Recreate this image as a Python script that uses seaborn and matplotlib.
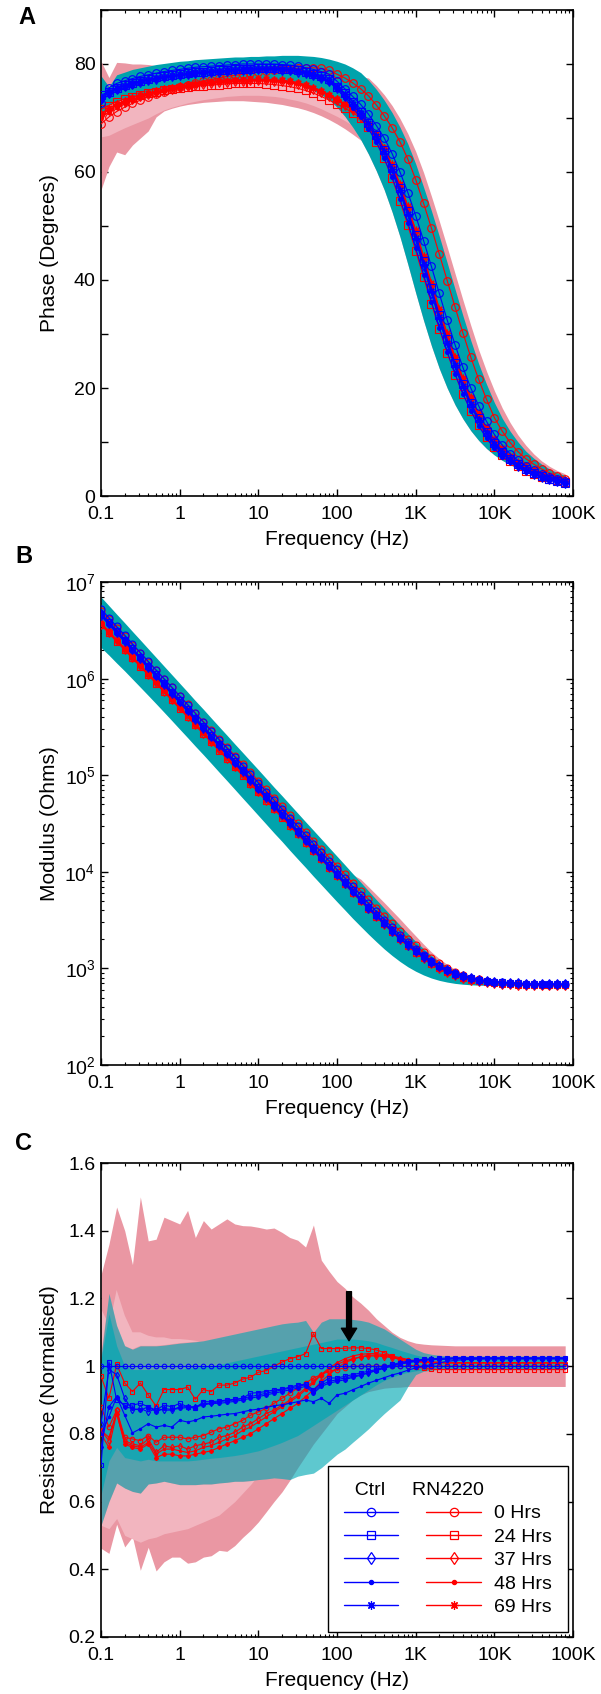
import seaborn as sns
import matplotlib.pyplot as plt
from matplotlib.lines import Line2D
from matplotlib.ticker import FixedLocator, FixedFormatter, LogLocator, NullFormatter, NullLocator

# frequency sweep, 10 points per decade
freq_hz = [
    0.1, 0.126, 0.158, 0.2, 0.251, 0.316, 0.398, 0.501, 0.631, 0.794,
    1.0, 1.26, 1.58, 2.0, 2.51, 3.16, 3.98, 5.01, 6.31, 7.94,
    10.0, 12.6, 15.8, 20.0, 25.1, 31.6, 39.8, 50.1, 63.1, 79.4,
    100, 126, 158, 200, 251, 316, 398, 501, 631, 794,
    1000, 1259, 1585, 1995, 2512, 3162, 3981, 5012, 6310, 7943,
    10000, 12589, 15849, 19953, 25119, 31623, 39811, 50119, 63096, 79433]

tick_freqs = [0.1, 1, 10, 100, 1e3, 1e4, 1e5]
tick_freq_labels = ['0.1', '1', '10', '100', '1K', '10K', '100K']
time_labels = ['0 Hrs', '24 Hrs', '37 Hrs', '48 Hrs', '69 Hrs']

# ---------------- A : phase (degrees) ----------------
ph_ctrl_0 = [
    72.7, 75.6, 76.4, 76.9, 77.3, 77.7, 78.0, 78.3, 78.6, 78.8,
    79.0, 79.2, 79.4, 79.5, 79.6, 79.7, 79.8, 79.9, 80.0, 80.0,
    80.0, 80.0, 80.0, 79.9, 79.8, 79.6, 79.3, 79.0, 78.6, 78.1,
    76.8, 75.4, 74.0, 72.5, 70.7, 68.6, 66.3, 63.4, 60.0, 56.2,
    51.9, 47.3, 42.5, 37.5, 32.6, 28.0, 23.8, 20.0, 16.7, 13.8,
    11.4, 9.4, 7.8, 6.6, 5.6, 4.8, 4.1, 3.5, 3.1, 2.7]
ph_ctrl_24 = [
    74.3, 74.8, 75.6, 76.1, 76.5, 76.9, 77.2, 77.5, 77.7, 77.9,
    78.1, 78.3, 78.5, 78.6, 78.7, 78.8, 78.9, 79.0, 79.1, 79.1,
    79.2, 79.2, 79.2, 79.1, 79.0, 78.8, 78.6, 78.2, 77.8, 77.2,
    75.8, 74.6, 73.0, 71.2, 69.1, 66.8, 64.0, 60.8, 57.0, 52.8,
    48.3, 43.5, 38.5, 33.6, 29.0, 24.6, 20.8, 17.3, 14.4, 11.9,
    9.8, 8.2, 6.9, 5.9, 5.0, 4.3, 3.7, 3.2, 2.8, 2.5]
ph_ctrl_37 = [
    73.6, 74.6, 75.3, 75.9, 76.3, 76.7, 77.0, 77.3, 77.5, 77.7,
    77.9, 78.1, 78.3, 78.4, 78.5, 78.6, 78.7, 78.8, 78.9, 78.9,
    79.0, 79.0, 79.0, 78.9, 78.8, 78.6, 78.3, 77.9, 77.4, 76.8,
    75.5, 74.0, 72.4, 70.7, 68.6, 66.3, 63.4, 60.0, 56.2, 51.9,
    47.3, 42.5, 37.5, 32.6, 28.0, 23.8, 20.0, 16.7, 13.8, 11.4,
    9.4, 7.8, 6.6, 5.6, 4.8, 4.1, 3.5, 3.1, 2.7, 2.4]
ph_ctrl_48 = [
    73.2, 74.3, 75.0, 75.6, 76.0, 76.4, 76.8, 77.1, 77.4, 77.6,
    77.8, 78.0, 78.2, 78.3, 78.4, 78.5, 78.6, 78.7, 78.8, 78.8,
    78.9, 78.9, 78.9, 78.8, 78.7, 78.5, 78.2, 77.8, 77.3, 76.7,
    75.3, 73.7, 71.9, 70.1, 68.0, 65.5, 62.5, 59.0, 55.0, 50.6,
    45.9, 41.0, 36.0, 31.2, 26.7, 22.6, 18.9, 15.8, 13.0, 10.7,
    8.8, 7.3, 6.3, 5.3, 4.5, 3.8, 3.3, 2.9, 2.6, 2.4]
ph_ctrl_69 = [
    73.9, 74.9, 75.5, 76.0, 76.4, 76.8, 77.1, 77.4, 77.6, 77.8,
    78.0, 78.2, 78.4, 78.5, 78.6, 78.7, 78.8, 78.9, 79.0, 79.0,
    79.1, 79.1, 79.1, 79.0, 78.9, 78.7, 78.4, 78.0, 77.5, 76.9,
    75.7, 74.4, 72.6, 71.0, 69.0, 66.7, 63.9, 60.5, 56.6, 52.3,
    47.8, 43.0, 38.0, 33.1, 28.4, 24.2, 20.4, 17.0, 14.1, 11.6,
    9.6, 8.0, 6.7, 5.7, 4.9, 4.2, 3.6, 3.1, 2.8, 2.5]
ph_rn_0 = [
    68.9, 70.2, 71.2, 72.0, 72.7, 73.3, 73.9, 74.4, 74.9, 75.3,
    75.7, 76.1, 76.5, 76.8, 77.1, 77.4, 77.7, 77.9, 78.1, 78.3,
    78.5, 78.7, 78.9, 79.0, 79.1, 79.2, 79.3, 79.3, 79.2, 78.8,
    78.1, 77.4, 76.5, 75.4, 74.1, 72.4, 70.4, 68.2, 65.6, 62.4,
    58.6, 54.2, 49.6, 44.8, 39.9, 35.0, 30.2, 25.7, 21.6, 17.9,
    14.5, 12.0, 9.9, 8.2, 6.9, 5.9, 5.0, 4.3, 3.7, 3.2]
ph_rn_24 = [
    71.6, 72.3, 73.0, 73.5, 73.9, 74.3, 74.6, 74.9, 75.1, 75.3,
    75.5, 75.7, 75.9, 76.0, 76.1, 76.2, 76.3, 76.4, 76.4, 76.4,
    76.4, 76.3, 76.2, 76.0, 75.8, 75.5, 75.1, 74.6, 74.0, 73.3,
    72.6, 71.8, 71.0, 70.0, 68.3, 65.6, 62.5, 58.8, 54.6, 50.1,
    45.4, 40.5, 35.6, 30.9, 26.5, 22.5, 18.9, 15.8, 13.1, 10.9,
    9.1, 7.6, 6.4, 5.5, 4.7, 4.1, 3.6, 3.2, 2.9, 2.6]
ph_rn_37 = [
    70.5, 71.5, 72.4, 73.0, 73.5, 74.0, 74.4, 74.8, 75.1, 75.4,
    75.7, 75.9, 76.1, 76.3, 76.5, 76.6, 76.7, 76.8, 76.9, 77.0,
    77.0, 77.0, 76.9, 76.8, 76.6, 76.3, 75.9, 75.4, 74.8, 74.1,
    73.3, 72.4, 71.4, 70.2, 68.7, 66.8, 64.2, 61.0, 57.3, 53.1,
    48.6, 43.8, 38.9, 34.1, 29.5, 25.2, 21.3, 17.9, 14.9, 12.3,
    10.2, 8.5, 7.1, 6.0, 5.1, 4.4, 3.8, 3.4, 3.0, 2.7]
ph_rn_48 = [
    70.0, 71.2, 72.1, 72.8, 73.3, 73.8, 74.2, 74.6, 75.0, 75.3,
    75.6, 75.9, 76.1, 76.3, 76.5, 76.6, 76.8, 76.9, 77.0, 77.1,
    77.1, 77.1, 77.0, 76.9, 76.7, 76.4, 76.0, 75.5, 74.9, 74.2,
    73.4, 72.5, 71.5, 70.3, 68.8, 66.9, 64.4, 61.3, 57.7, 53.6,
    49.1, 44.3, 39.4, 34.6, 30.0, 25.7, 21.8, 18.3, 15.2, 12.6,
    10.4, 8.7, 7.3, 6.2, 5.3, 4.5, 3.9, 3.4, 3.0, 2.7]
ph_rn_69 = [
    70.8, 71.8, 72.6, 73.2, 73.7, 74.2, 74.6, 75.0, 75.3, 75.6,
    75.9, 76.1, 76.3, 76.5, 76.7, 76.8, 76.9, 77.0, 77.1, 77.2,
    77.2, 77.2, 77.1, 77.0, 76.8, 76.5, 76.1, 75.6, 75.0, 74.3,
    73.5, 72.6, 71.6, 70.4, 68.9, 67.0, 64.5, 61.4, 57.8, 53.7,
    49.2, 44.4, 39.5, 34.7, 30.1, 25.8, 21.9, 18.4, 15.3, 12.7,
    10.5, 8.8, 7.4, 6.3, 5.3, 4.6, 4.0, 3.5, 3.1, 2.8]

# spread bands
ph_ctrl_hi = [
    77.8, 75.8, 78.0, 78.5, 79.0, 79.3, 79.6, 79.9, 80.1, 80.3,
    80.5, 80.6, 80.8, 80.9, 81.0, 81.1, 81.2, 81.3, 81.3, 81.4,
    81.4, 81.5, 81.5, 81.6, 81.6, 81.6, 81.5, 81.4, 81.2, 80.9,
    80.5, 80.0, 79.3, 78.4, 77.0, 75.3, 73.3, 71.0, 68.3, 65.2,
    61.5, 57.2, 52.8, 48.1, 43.2, 38.3, 33.4, 28.8, 24.5, 20.7,
    17.3, 14.4, 12.0, 10.0, 8.3, 7.0, 5.9, 5.0, 4.3, 3.8]
ph_ctrl_lo = [
    70.5, 72.5, 73.0, 73.6, 74.0, 74.4, 74.8, 75.2, 75.5, 75.8,
    76.1, 76.3, 76.5, 76.7, 76.9, 77.0, 77.1, 77.2, 77.3, 77.3,
    77.3, 77.2, 77.1, 76.9, 76.6, 76.2, 75.7, 75.1, 74.3, 73.4,
    72.0, 70.3, 68.3, 66.0, 63.3, 60.2, 56.7, 52.6, 48.0, 42.9,
    37.6, 32.5, 27.8, 23.6, 20.0, 16.9, 14.3, 12.1, 10.3, 8.8,
    7.6, 6.6, 5.8, 5.1, 4.5, 4.0, 3.5, 3.1, 2.7, 2.3]
ph_rn_hi = [
    80.5, 77.5, 80.3, 80.2, 80.0, 80.0, 79.9, 79.7, 79.6, 79.8,
    80.0, 80.2, 80.3, 80.4, 80.5, 80.5, 80.6, 80.6, 80.7, 80.7,
    80.7, 80.7, 80.7, 80.7, 80.7, 80.6, 80.5, 80.3, 80.1, 79.8,
    79.4, 78.9, 78.3, 77.7, 77.4, 76.0, 74.3, 72.3, 69.9, 67.1,
    63.8, 59.9, 55.5, 50.9, 46.1, 41.2, 36.3, 31.6, 27.1, 23.1,
    19.5, 16.3, 13.6, 11.3, 9.4, 7.8, 6.5, 5.5, 4.7, 4.1]
ph_rn_lo = [
    56.7, 61.0, 63.7, 63.2, 65.0, 66.3, 67.6, 70.2, 71.3, 71.8,
    72.2, 72.5, 72.7, 72.9, 73.0, 73.1, 73.2, 73.2, 73.2, 73.1,
    73.0, 72.9, 72.7, 72.5, 72.2, 71.9, 71.5, 71.0, 70.4, 69.7,
    68.9, 68.0, 67.0, 65.9, 64.6, 62.7, 60.3, 57.2, 53.5, 49.2,
    44.6, 39.8, 35.1, 30.6, 26.5, 22.8, 19.5, 16.6, 14.1, 12.0,
    10.2, 8.7, 7.4, 6.4, 5.5, 4.8, 4.2, 3.7, 3.2, 2.8]
ph_rn_inner_lo = [
    66.5, 66.8, 67.5, 68.2, 68.8, 69.4, 70.0, 70.8, 71.5, 72.0,
    72.4, 72.8, 73.1, 73.4, 73.6, 73.8, 74.0, 74.1, 74.2, 74.2,
    74.2, 74.1, 74.0, 73.8, 73.5, 73.2, 72.8, 72.3, 71.7, 71.0,
    70.3, 69.5, 68.6, 67.6, 66.4, 64.8, 62.4, 59.4, 55.8, 51.6,
    47.0, 42.2, 37.4, 32.8, 28.5, 24.5, 21.0, 17.9, 15.2, 12.9,
    11.0, 9.4, 8.0, 6.9, 6.0, 5.2, 4.5, 3.9, 3.4, 3.0]

# ---------------- B : modulus (ohms) ----------------
mod_ctrl_0 = [
    5.25e6, 4.27e6, 3.47e6, 2.82e6, 2.29e6, 1.86e6, 1.51e6, 1.23e6, 1.00e6, 8.13e5,
    6.61e5, 5.37e5, 4.37e5, 3.55e5, 2.88e5, 2.34e5, 1.91e5, 1.55e5, 1.26e5, 1.02e5,
    8.33e4, 6.77e4, 5.51e4, 4.48e4, 3.64e4, 2.96e4, 2.41e4, 1.96e4, 1.60e4, 1.30e4,
    1.06e4, 8.66e3, 7.07e3, 5.78e3, 4.74e3, 3.89e3, 3.21e3, 2.66e3, 2.22e3, 1.87e3,
    1.59e3, 1.37e3, 1.20e3, 1.06e3, 963, 890, 835, 794, 765, 743,
    728, 716, 707, 701, 696, 693, 690, 688, 686, 685]
mod_ctrl_24 = [
    4.7e6, 3.85e6, 3.12e6, 2.54e6, 2.06e6, 1.68e6, 1.36e6, 1.11e6, 9.0e5, 7.3e5,
    5.95e5, 4.83e5, 3.93e5, 3.2e5, 2.6e5, 2.11e5, 1.72e5, 1.4e5, 1.13e5, 9.2e4,
    7.5e4, 6.1e4, 4.96e4, 4.03e4, 3.28e4, 2.67e4, 2.17e4, 1.77e4, 1.44e4, 1.17e4,
    9.6e3, 7.85e3, 6.42e3, 5.27e3, 4.34e3, 3.59e3, 2.98e3, 2.49e3, 2.09e3, 1.78e3,
    1.53e3, 1.33e3, 1.17e3, 1.05e3, 955, 885, 832, 792, 763, 742,
    727, 715, 706, 700, 695, 692, 689, 687, 685, 684]
mod_ctrl_37 = [
    4.6e6, 3.75e6, 3.05e6, 2.48e6, 2.01e6, 1.64e6, 1.33e6, 1.08e6, 8.8e5, 7.15e5,
    5.82e5, 4.73e5, 3.85e5, 3.12e5, 2.54e5, 2.06e5, 1.68e5, 1.36e5, 1.11e5, 9.0e4,
    7.33e4, 5.96e4, 4.85e4, 3.94e4, 3.2e4, 2.61e4, 2.12e4, 1.73e4, 1.41e4, 1.15e4,
    9.4e3, 7.7e3, 6.3e3, 5.18e3, 4.27e3, 3.54e3, 2.94e3, 2.46e3, 2.07e3, 1.76e3,
    1.52e3, 1.32e3, 1.17e3, 1.05e3, 955, 884, 831, 791, 762, 741,
    726, 714, 705, 699, 694, 691, 688, 686, 684, 683]
mod_ctrl_48 = [
    4.45e6, 3.63e6, 2.95e6, 2.4e6, 1.95e6, 1.58e6, 1.28e6, 1.05e6, 8.5e5, 6.9e5,
    5.62e5, 4.57e5, 3.71e5, 3.02e5, 2.45e5, 1.99e5, 1.62e5, 1.32e5, 1.07e5, 8.7e4,
    7.08e4, 5.76e4, 4.68e4, 3.81e4, 3.1e4, 2.52e4, 2.05e4, 1.67e4, 1.36e4, 1.11e4,
    9.1e3, 7.45e3, 6.1e3, 5.02e3, 4.15e3, 3.45e3, 2.88e3, 2.41e3, 2.04e3, 1.74e3,
    1.5e3, 1.31e3, 1.16e3, 1.04e3, 950, 880, 828, 789, 760, 739,
    724, 712, 703, 697, 692, 689, 686, 684, 682, 681]
mod_ctrl_69 = [
    4.55e6, 3.7e6, 3.0e6, 2.45e6, 1.99e6, 1.62e6, 1.31e6, 1.07e6, 8.7e5, 7.07e5,
    5.75e5, 4.67e5, 3.8e5, 3.09e5, 2.51e5, 2.04e5, 1.66e5, 1.35e5, 1.1e5, 8.9e4,
    7.25e4, 5.89e4, 4.79e4, 3.9e4, 3.17e4, 2.58e4, 2.1e4, 1.71e4, 1.39e4, 1.13e4,
    9.3e3, 7.6e3, 6.22e3, 5.12e3, 4.22e3, 3.5e3, 2.92e3, 2.44e3, 2.06e3, 1.75e3,
    1.51e3, 1.32e3, 1.16e3, 1.04e3, 952, 882, 830, 790, 761, 740,
    725, 713, 704, 698, 693, 690, 687, 685, 683, 682]
mod_rn_0 = [
    5.0e6, 4.1e6, 3.35e6, 2.74e6, 2.24e6, 1.83e6, 1.49e6, 1.22e6, 9.95e5, 8.12e5,
    6.63e5, 5.41e5, 4.42e5, 3.6e5, 2.94e5, 2.4e5, 1.96e5, 1.6e5, 1.31e5, 1.07e5,
    8.72e4, 7.12e4, 5.81e4, 4.75e4, 3.88e4, 3.17e4, 2.59e4, 2.11e4, 1.73e4, 1.41e4,
    1.15e4, 9.4e3, 7.7e3, 6.3e3, 5.18e3, 4.26e3, 3.52e3, 2.92e3, 2.43e3, 2.04e3,
    1.73e3, 1.48e3, 1.28e3, 1.13e3, 1.01e3, 918, 853, 805, 770, 744,
    725, 711, 700, 692, 686, 682, 679, 676, 674, 673]
mod_rn_24 = [
    3.6e6, 2.95e6, 2.42e6, 1.98e6, 1.62e6, 1.33e6, 1.09e6, 8.9e5, 7.3e5, 5.97e5,
    4.89e5, 4.0e5, 3.28e5, 2.68e5, 2.2e5, 1.8e5, 1.47e5, 1.21e5, 9.9e4, 8.1e4,
    6.63e4, 5.43e4, 4.45e4, 3.64e4, 2.98e4, 2.45e4, 2.0e4, 1.64e4, 1.35e4, 1.1e4,
    9.0e3, 7.4e3, 6.1e3, 5.0e3, 4.12e3, 3.42e3, 2.85e3, 2.38e3, 2.0e3, 1.7e3,
    1.46e3, 1.27e3, 1.12e3, 1.0e3, 910, 845, 796, 760, 734, 715,
    701, 691, 684, 679, 675, 672, 670, 669, 668, 667]
mod_rn_37 = [
    3.7e6, 3.04e6, 2.49e6, 2.04e6, 1.67e6, 1.37e6, 1.12e6, 9.2e5, 7.5e5, 6.15e5,
    5.04e5, 4.12e5, 3.38e5, 2.76e5, 2.26e5, 1.85e5, 1.52e5, 1.24e5, 1.02e5, 8.35e4,
    6.83e4, 5.59e4, 4.58e4, 3.75e4, 3.07e4, 2.52e4, 2.06e4, 1.69e4, 1.39e4, 1.13e4,
    9.25e3, 7.6e3, 6.25e3, 5.12e3, 4.22e3, 3.5e3, 2.91e3, 2.43e3, 2.04e3, 1.73e3,
    1.48e3, 1.29e3, 1.13e3, 1.01e3, 918, 850, 800, 763, 736, 717,
    703, 693, 686, 681, 677, 674, 672, 670, 669, 668]
mod_rn_48 = [
    3.65e6, 2.99e6, 2.45e6, 2.0e6, 1.64e6, 1.35e6, 1.1e6, 9.0e5, 7.4e5, 6.05e5,
    4.95e5, 4.06e5, 3.33e5, 2.72e5, 2.23e5, 1.83e5, 1.5e5, 1.23e5, 1.0e5, 8.2e4,
    6.72e4, 5.5e4, 4.5e4, 3.69e4, 3.02e4, 2.48e4, 2.03e4, 1.66e4, 1.37e4, 1.12e4,
    9.1e3, 7.5e3, 6.15e3, 5.05e3, 4.17e3, 3.46e3, 2.88e3, 2.41e3, 2.02e3, 1.72e3,
    1.47e3, 1.28e3, 1.12e3, 1.0e3, 914, 848, 798, 762, 735, 716,
    702, 692, 685, 680, 676, 673, 671, 669, 668, 667]
mod_rn_69 = [
    3.8e6, 3.1e6, 2.54e6, 2.08e6, 1.7e6, 1.39e6, 1.14e6, 9.35e5, 7.65e5, 6.25e5,
    5.12e5, 4.19e5, 3.43e5, 2.81e5, 2.3e5, 1.88e5, 1.54e5, 1.26e5, 1.03e5, 8.45e4,
    6.92e4, 5.66e4, 4.63e4, 3.79e4, 3.1e4, 2.54e4, 2.08e4, 1.7e4, 1.4e4, 1.14e4,
    9.3e3, 7.65e3, 6.28e3, 5.15e3, 4.25e3, 3.52e3, 2.93e3, 2.44e3, 2.05e3, 1.74e3,
    1.49e3, 1.29e3, 1.13e3, 1.01e3, 920, 852, 801, 764, 737, 718,
    704, 694, 687, 681, 677, 674, 672, 670, 669, 668]
mod_ctrl_hi = [
    7.0e6, 5.7e6, 4.65e6, 3.78e6, 3.08e6, 2.51e6, 2.04e6, 1.66e6, 1.35e6, 1.1e6,
    8.95e5, 7.28e5, 5.92e5, 4.82e5, 3.92e5, 3.19e5, 2.6e5, 2.11e5, 1.72e5, 1.4e5,
    1.14e5, 9.25e4, 7.53e4, 6.13e4, 4.99e4, 4.06e4, 3.3e4, 2.69e4, 2.19e4, 1.78e4,
    1.45e4, 1.18e4, 9.6e3, 7.8e3, 6.35e3, 5.15e3, 4.2e3, 3.43e3, 2.8e3, 2.3e3,
    1.9e3, 1.6e3, 1.36e3, 1.18e3, 1.05e3, 950, 875, 820, 780, 752,
    732, 718, 708, 701, 696, 692, 690, 688, 686, 685]
mod_ctrl_lo = [
    2.1e6, 1.75e6, 1.45e6, 1.2e6, 9.9e5, 8.15e5, 6.7e5, 5.5e5, 4.5e5, 3.68e5,
    3.0e5, 2.45e5, 2.0e5, 1.63e5, 1.33e5, 1.08e5, 8.8e4, 7.15e4, 5.8e4, 4.72e4,
    3.83e4, 3.11e4, 2.53e4, 2.06e4, 1.67e4, 1.36e4, 1.11e4, 9.0e3, 7.35e3, 6.0e3,
    4.9e3, 4.02e3, 3.3e3, 2.72e3, 2.26e3, 1.89e3, 1.59e3, 1.36e3, 1.18e3, 1.04e3,
    935, 855, 795, 752, 722, 700, 686, 677, 671, 668,
    666, 665, 664, 663, 663, 662, 662, 661, 661, 661]
mod_rn_hi = [
    5.5e6, 4.5e6, 3.68e6, 3.0e6, 2.46e6, 2.01e6, 1.65e6, 1.35e6, 1.1e6, 9.0e5,
    7.4e5, 6.05e5, 4.95e5, 4.05e5, 3.32e5, 2.72e5, 2.22e5, 1.82e5, 1.49e5, 1.22e5,
    1.0e5, 8.2e4, 6.72e4, 5.5e4, 4.5e4, 3.69e4, 3.02e4, 2.48e4, 2.03e4, 1.67e4,
    1.37e4, 1.13e4, 9.35e3, 8.4e3, 7.0e3, 5.8e3, 4.8e3, 3.95e3, 3.25e3, 2.65e3,
    2.17e3, 1.78e3, 1.48e3, 1.26e3, 1.1e3, 980, 885, 820, 778, 748,
    727, 712, 702, 695, 690, 686, 683, 681, 680, 679]

# ---------------- C : normalised resistance ----------------
res_ctrl_0 = [
    1.0, 1.0, 1.0, 1.0, 1.0, 1.0, 1.0, 1.0, 1.0, 1.0,
    1.0, 1.0, 1.0, 1.0, 1.0, 1.0, 1.0, 1.0, 1.0, 1.0,
    1.0, 1.0, 1.0, 1.0, 1.0, 1.0, 1.0, 1.0, 1.0, 1.0,
    1.0, 1.0, 1.0, 1.0, 1.0, 1.0, 1.0, 1.0, 1.0, 1.0,
    1.0, 1.0, 1.0, 1.0, 1.0, 1.0, 1.0, 1.0, 1.0, 1.0,
    1.0, 1.0, 1.0, 1.0, 1.0, 1.0, 1.0, 1.0, 1.0, 1.0]
res_ctrl_24 = [
    0.707, 1.013, 0.90, 0.885, 0.885, 0.89, 0.88, 0.87, 0.885, 0.88,
    0.89, 0.88, 0.875, 0.895, 0.895, 0.897, 0.90, 0.902, 0.905, 0.92,
    0.922, 0.925, 0.93, 0.932, 0.938, 0.944, 0.947, 0.93, 0.95, 0.965,
    0.965, 0.97, 0.975, 0.98, 0.985, 0.99, 0.998, 1.005, 1.01, 1.015,
    1.018, 1.02, 1.022, 1.023, 1.024, 1.025, 1.025, 1.025, 1.025, 1.025,
    1.025, 1.025, 1.025, 1.025, 1.025, 1.025, 1.025, 1.025, 1.025, 1.025]
res_ctrl_37 = [
    0.83, 0.99, 0.975, 0.905, 0.87, 0.875, 0.865, 0.875, 0.87, 0.87,
    0.88, 0.88, 0.88, 0.89, 0.89, 0.895, 0.898, 0.90, 0.905, 0.91,
    0.915, 0.92, 0.925, 0.93, 0.935, 0.94, 0.945, 0.925, 0.945, 0.955,
    0.96, 0.965, 0.97, 0.975, 0.98, 0.988, 0.995, 1.002, 1.008, 1.012,
    1.015, 1.018, 1.02, 1.02, 1.021, 1.022, 1.022, 1.022, 1.022, 1.022,
    1.022, 1.022, 1.022, 1.022, 1.022, 1.022, 1.022, 1.022, 1.022, 1.022]
res_ctrl_48 = [
    0.80, 0.85, 0.91, 0.855, 0.803, 0.815, 0.83, 0.82, 0.825, 0.82,
    0.84, 0.835, 0.84, 0.85, 0.852, 0.855, 0.858, 0.86, 0.865, 0.87,
    0.873, 0.878, 0.883, 0.886, 0.89, 0.895, 0.90, 0.895, 0.905, 0.89,
    0.915, 0.92, 0.93, 0.94, 0.95, 0.958, 0.966, 0.974, 0.98, 0.988,
    0.995, 1.0, 1.005, 1.01, 1.014, 1.017, 1.019, 1.02, 1.021, 1.022,
    1.022, 1.022, 1.022, 1.022, 1.022, 1.022, 1.022, 1.022, 1.022, 1.022]
res_ctrl_69 = [
    0.76, 0.88, 0.91, 0.88, 0.875, 0.87, 0.88, 0.865, 0.875, 0.872,
    0.875, 0.878, 0.88, 0.885, 0.89, 0.89, 0.893, 0.896, 0.90, 0.905,
    0.91, 0.915, 0.92, 0.925, 0.93, 0.935, 0.94, 0.92, 0.94, 0.95,
    0.955, 0.96, 0.967, 0.973, 0.98, 0.987, 0.994, 1.0, 1.006, 1.01,
    1.014, 1.017, 1.019, 1.02, 1.021, 1.022, 1.022, 1.022, 1.022, 1.022,
    1.022, 1.022, 1.022, 1.022, 1.022, 1.022, 1.022, 1.022, 1.022, 1.022]
res_rn_0 = [
    0.88, 0.82, 0.87, 0.79, 0.785, 0.78, 0.795, 0.775, 0.79, 0.79,
    0.79, 0.785, 0.79, 0.795, 0.805, 0.815, 0.82, 0.83, 0.84, 0.855,
    0.865, 0.875, 0.89, 0.905, 0.92, 0.935, 0.95, 0.965, 0.975, 0.985,
    0.99, 0.995, 1.0, 1.0, 1.0, 1.0, 1.0, 1.0, 1.0, 1.0,
    1.0, 1.0, 1.0, 1.0, 1.0, 1.0, 1.0, 1.0, 1.0, 1.0,
    1.0, 1.0, 1.0, 1.0, 1.0, 1.0, 1.0, 1.0, 1.0, 1.0]
res_rn_24 = [
    0.97, 0.905, 1.005, 0.95, 0.925, 0.95, 0.915, 0.882, 0.931, 0.931,
    0.931, 0.938, 0.902, 0.931, 0.925, 0.944, 0.944, 0.95, 0.962, 0.967,
    0.982, 0.987, 1.0, 1.012, 1.022, 1.028, 1.037, 1.096, 1.052, 1.052,
    1.052, 1.053, 1.054, 1.054, 1.052, 1.048, 1.04, 1.03, 1.018, 1.005,
    0.998, 0.994, 0.991, 0.99, 0.99, 0.99, 0.99, 0.99, 0.99, 0.99,
    0.99, 0.99, 0.99, 0.99, 0.99, 0.99, 0.99, 0.99, 0.99, 0.99]
res_rn_37 = [
    0.81, 0.78, 0.87, 0.78, 0.77, 0.765, 0.785, 0.745, 0.765, 0.76,
    0.765, 0.755, 0.765, 0.77, 0.775, 0.79, 0.795, 0.805, 0.82, 0.83,
    0.845, 0.86, 0.87, 0.885, 0.90, 0.915, 0.935, 0.955, 0.975, 0.99,
    1.005, 1.015, 1.022, 1.027, 1.03, 1.03, 1.028, 1.025, 1.02, 1.016,
    1.013, 1.011, 1.01, 1.01, 1.01, 1.01, 1.01, 1.01, 1.01, 1.01,
    1.01, 1.01, 1.01, 1.01, 1.01, 1.01, 1.01, 1.01, 1.01, 1.01]
res_rn_48 = [
    0.81, 0.79, 0.86, 0.775, 0.765, 0.76, 0.775, 0.74, 0.755, 0.755,
    0.75, 0.745, 0.75, 0.76, 0.765, 0.775, 0.785, 0.795, 0.81, 0.82,
    0.835, 0.85, 0.865, 0.88, 0.895, 0.91, 0.93, 0.95, 0.975, 0.995,
    1.01, 1.022, 1.03, 1.035, 1.037, 1.037, 1.034, 1.03, 1.025, 1.02,
    1.016, 1.013, 1.012, 1.011, 1.01, 1.01, 1.01, 1.01, 1.01, 1.01,
    1.01, 1.01, 1.01, 1.01, 1.01, 1.01, 1.01, 1.01, 1.01, 1.01]
res_rn_69 = [
    0.80, 0.76, 0.86, 0.77, 0.76, 0.755, 0.77, 0.73, 0.74, 0.74,
    0.735, 0.735, 0.74, 0.745, 0.75, 0.76, 0.77, 0.78, 0.79, 0.80,
    0.815, 0.83, 0.845, 0.86, 0.875, 0.89, 0.91, 0.93, 0.955, 0.975,
    0.995, 1.01, 1.02, 1.028, 1.032, 1.033, 1.031, 1.027, 1.022, 1.018,
    1.015, 1.013, 1.012, 1.011, 1.01, 1.01, 1.01, 1.01, 1.01, 1.01,
    1.01, 1.01, 1.01, 1.01, 1.01, 1.01, 1.01, 1.01, 1.01, 1.01]
res_rn_hi = [
    1.27, 1.36, 1.47, 1.40, 1.30, 1.50, 1.37, 1.375, 1.44, 1.43,
    1.42, 1.46, 1.38, 1.43, 1.405, 1.42, 1.435, 1.42, 1.415, 1.414,
    1.41, 1.405, 1.408, 1.395, 1.38, 1.372, 1.352, 1.417, 1.313, 1.28,
    1.25, 1.23, 1.205, 1.186, 1.165, 1.14, 1.12, 1.10, 1.085, 1.075,
    1.068, 1.065, 1.063, 1.062, 1.061, 1.06, 1.06, 1.06, 1.06, 1.06,
    1.06, 1.06, 1.06, 1.06, 1.06, 1.06, 1.06, 1.06, 1.06, 1.06]
res_rn_lo = [
    0.462, 0.447, 0.533, 0.466, 0.496, 0.397, 0.465, 0.395, 0.422, 0.436,
    0.436, 0.418, 0.422, 0.436, 0.44, 0.456, 0.453, 0.47, 0.494, 0.515,
    0.54, 0.57, 0.60, 0.629, 0.663, 0.70, 0.735, 0.77, 0.80, 0.83,
    0.86, 0.88, 0.90, 0.915, 0.925, 0.93, 0.935, 0.937, 0.938, 0.94,
    0.94, 0.94, 0.94, 0.94, 0.94, 0.94, 0.94, 0.94, 0.94, 0.94,
    0.94, 0.94, 0.94, 0.94, 0.94, 0.94, 0.94, 0.94, 0.94, 0.94]
res_rn_inner_hi = [
    1.17, 1.12, 1.225, 1.15, 1.10, 1.10, 1.09, 1.085, 1.085, 1.08,
    1.08, 1.078, 1.075, 1.072, 1.07, 1.068, 1.065, 1.062, 1.06, 1.058,
    1.055, 1.05, 1.05, 1.05, 1.05, 1.05, 1.05, 1.05, 1.05, 1.05,
    1.05, 1.05, 1.05, 1.05, 1.05, 1.05, 1.05, 1.05, 1.05, 1.05,
    1.02, 1.02, 1.02, 1.02, 1.02, 1.02, 1.02, 1.02, 1.02, 1.02,
    1.02, 1.02, 1.02, 1.02, 1.02, 1.02, 1.02, 1.02, 1.02, 1.02]
res_rn_inner_lo = [
    0.53, 0.52, 0.55, 0.50, 0.49, 0.48, 0.49, 0.495, 0.505, 0.51,
    0.515, 0.52, 0.53, 0.54, 0.55, 0.56, 0.58, 0.60, 0.625, 0.65,
    0.68, 0.71, 0.74, 0.77, 0.80, 0.83, 0.86, 0.89, 0.92, 0.95,
    0.97, 0.97, 0.97, 0.97, 0.97, 0.97, 0.97, 0.97, 0.97, 0.97,
    0.99, 0.99, 0.99, 0.99, 0.99, 0.99, 0.99, 0.99, 0.99, 0.99,
    0.99, 0.99, 0.99, 0.99, 0.99, 0.99, 0.99, 0.99, 0.99, 0.99]
res_ctrl_hi = [
    1.03, 1.215, 1.12, 1.06, 1.05, 1.06, 1.06, 1.06, 1.062, 1.065,
    1.068, 1.07, 1.072, 1.075, 1.08, 1.085, 1.09, 1.095, 1.10, 1.105,
    1.11, 1.115, 1.12, 1.125, 1.128, 1.13, 1.135, 1.10, 1.13, 1.14,
    1.14, 1.14, 1.138, 1.135, 1.13, 1.12, 1.11, 1.095, 1.08, 1.065,
    1.05, 1.04, 1.035, 1.032, 1.03, 1.03, 1.03, 1.03, 1.03, 1.03,
    1.03, 1.03, 1.03, 1.03, 1.03, 1.03, 1.03, 1.03, 1.03, 1.03]
res_ctrl_lo = [
    0.53, 0.60, 0.655, 0.64, 0.63, 0.625, 0.652, 0.655, 0.66, 0.655,
    0.65, 0.65, 0.65, 0.652, 0.652, 0.655, 0.657, 0.66, 0.66, 0.662,
    0.665, 0.667, 0.67, 0.668, 0.665, 0.675, 0.68, 0.684, 0.70, 0.72,
    0.74, 0.755, 0.775, 0.795, 0.815, 0.838, 0.86, 0.88, 0.90, 0.94,
    0.975, 0.985, 0.988, 0.99, 0.99, 0.99, 0.99, 0.99, 0.99, 0.99,
    0.99, 0.99, 0.99, 0.99, 0.99, 0.99, 0.99, 0.99, 0.99, 0.99]
res_ctrl_inner_hi = [
    1.02, 1.155, 1.06, 1.0, 0.99, 0.99, 0.99, 0.99, 0.99, 0.99,
    0.99, 0.995, 0.995, 1.0, 1.0, 1.005, 1.01, 1.015, 1.02, 1.025,
    1.03, 1.035, 1.04, 1.045, 1.05, 1.055, 1.06, 1.065, 1.07, 1.075,
    1.08, 1.08, 1.08, 1.078, 1.075, 1.07, 1.062, 1.055, 1.047, 1.04,
    1.033, 1.028, 1.025, 1.025, 1.025, 1.025, 1.025, 1.025, 1.025, 1.025,
    1.025, 1.025, 1.025, 1.025, 1.025, 1.025, 1.025, 1.025, 1.025, 1.025]
res_ctrl_inner_lo = [
    0.62, 0.72, 0.76, 0.73, 0.725, 0.72, 0.725, 0.72, 0.72, 0.72,
    0.72, 0.72, 0.722, 0.725, 0.728, 0.73, 0.733, 0.736, 0.74, 0.745,
    0.75, 0.758, 0.766, 0.775, 0.785, 0.795, 0.81, 0.825, 0.84, 0.855,
    0.87, 0.885, 0.90, 0.915, 0.93, 0.945, 0.958, 0.968, 0.976, 0.982,
    0.986, 0.988, 0.99, 0.99, 0.99, 0.99, 0.99, 0.99, 0.99, 0.99,
    0.99, 0.99, 0.99, 0.99, 0.99, 0.99, 0.99, 0.99, 0.99, 0.99]

CTRL = '#0000FF'
RN = '#FF0000'
TEAL = '#00A3AC'
PINK = '#EA97A3'
LPINK = '#F2B5BF'
MARKERS = ['o', 's', 'd', '.', (8, 2, 0)]

sns.set_theme(style='white')
plt.rcParams['font.family'] = ['Liberation Sans', 'DejaVu Sans']
plt.rcParams['mathtext.fontset'] = 'custom'
plt.rcParams['mathtext.rm'] = 'Liberation Sans'
plt.rcParams['mathtext.it'] = 'Liberation Sans:italic'
plt.rcParams['text.color'] = 'black'
plt.rcParams['axes.labelcolor'] = 'black'


def draw_lines(ax, series, color, size, lw=0.8):
    for vals, mk in zip(series, MARKERS):
        sns.lineplot(x=freq_hz, y=vals, ax=ax, color=color, linewidth=lw,
                     marker=mk, markersize=size,
                     markerfacecolor=color if mk == '.' else 'none',
                     markeredgecolor=color, markeredgewidth=0.8,
                     estimator=None, sort=False, legend=False, zorder=3)


def style_axis(ax):
    ax.set_xscale('log')
    ax.set_xlim(0.1, 1e5)
    ax.xaxis.set_major_locator(FixedLocator(tick_freqs))
    ax.xaxis.set_major_formatter(FixedFormatter(tick_freq_labels))
    ax.xaxis.set_minor_locator(LogLocator(base=10, subs=range(2, 10), numticks=20))
    ax.xaxis.set_minor_formatter(NullFormatter())
    ax.set_xlabel('Frequency (Hz)', fontsize=15, labelpad=5)
    ax.tick_params(which='both', direction='in', top=True, right=True,
                   bottom=True, left=True, colors='black', labelsize=14)
    ax.tick_params(which='major', length=5, width=1)
    ax.tick_params(which='minor', length=2.5, width=0.8)
    ax.tick_params(axis='x', which='major', pad=7)
    ax.tick_params(axis='y', which='major', pad=4)
    for s in ax.spines.values():
        s.set_visible(True)
        s.set_color('black')
        s.set_linewidth(1.2)
    ax.yaxis.set_label_coords(-0.09, 0.5)


fig = plt.figure(figsize=(6.01, 16.94), dpi=100)
axA = fig.add_axes([0.1681, 0.7072, 0.7854, 0.2869])
axB = fig.add_axes([0.1681, 0.3713, 0.7854, 0.2851])
axC = fig.add_axes([0.1681, 0.03365, 0.7854, 0.2798])
for ax in (axA, axB, axC):
    ax.set_xscale('log')

# A
axA.fill_between(freq_hz, ph_rn_lo, ph_rn_hi, color=PINK, lw=0, zorder=1)
axA.fill_between(freq_hz, ph_rn_inner_lo, ph_ctrl_lo, color=LPINK, lw=0, zorder=1)
axA.fill_between(freq_hz, ph_ctrl_lo, ph_ctrl_hi, color=TEAL, lw=0, zorder=1)
draw_lines(axA, [ph_rn_0, ph_rn_24, ph_rn_37, ph_rn_48, ph_rn_69], RN, 5.5)
draw_lines(axA, [ph_ctrl_0, ph_ctrl_24, ph_ctrl_37, ph_ctrl_48, ph_ctrl_69], CTRL, 5.5)
style_axis(axA)
axA.set_ylim(0, 90)
axA.yaxis.set_major_locator(FixedLocator(range(0, 91, 10)))
axA.yaxis.set_major_formatter(FixedFormatter(['0', '', '20', '', '40', '', '60', '', '80', '']))
axA.set_ylabel('Phase (Degrees)', fontsize=15)

# B
axB.set_yscale('log')
axB.fill_between(freq_hz, mod_rn_24, mod_rn_hi, color=PINK, lw=0, zorder=1)
axB.fill_between(freq_hz, mod_ctrl_lo, mod_ctrl_hi, color=TEAL, lw=0, zorder=1)
draw_lines(axB, [mod_rn_0, mod_rn_24, mod_rn_37, mod_rn_48, mod_rn_69], RN, 5)
draw_lines(axB, [mod_ctrl_0, mod_ctrl_24, mod_ctrl_37, mod_ctrl_48, mod_ctrl_69], CTRL, 5)
style_axis(axB)
axB.set_ylim(1e2, 1e7)
axB.yaxis.set_major_locator(FixedLocator([1e2, 1e3, 1e4, 1e5, 1e6, 1e7]))
axB.yaxis.set_major_formatter(FixedFormatter([r'$10^{%d}$' % k for k in range(2, 8)]))
axB.yaxis.set_minor_locator(LogLocator(base=10, subs=range(2, 10), numticks=20))
axB.yaxis.set_minor_formatter(NullFormatter())
axB.set_ylabel('Modulus (Ohms)', fontsize=15)

# C
axC.fill_between(freq_hz, res_rn_lo, res_rn_hi, color=PINK, lw=0, zorder=1)
axC.fill_between(freq_hz, res_ctrl_hi, res_rn_inner_hi,
                 where=[a > b for a, b in zip(res_rn_inner_hi, res_ctrl_hi)],
                 interpolate=True, color=LPINK, lw=0, zorder=1)
axC.fill_between(freq_hz, res_rn_inner_lo, res_ctrl_lo,
                 where=[a < b for a, b in zip(res_rn_inner_lo, res_ctrl_lo)],
                 interpolate=True, color=LPINK, lw=0, zorder=1)
axC.fill_between(freq_hz, res_ctrl_lo, res_ctrl_hi, color='#00A8B4', alpha=0.63, lw=0, zorder=1)
axC.fill_between(freq_hz, res_ctrl_inner_lo, res_ctrl_inner_hi, color='#00A8B4', alpha=0.7, lw=0, zorder=1)
draw_lines(axC, [res_rn_0, res_rn_24, res_rn_37, res_rn_48, res_rn_69], RN, 3.3)
draw_lines(axC, [res_ctrl_0, res_ctrl_24, res_ctrl_37, res_ctrl_48, res_ctrl_69], CTRL, 3.3)
style_axis(axC)
axC.set_ylim(0.2, 1.6)
axC.yaxis.set_major_locator(FixedLocator([0.2, 0.4, 0.6, 0.8, 1.0, 1.2, 1.4, 1.6]))
axC.yaxis.set_major_formatter(FixedFormatter(['0.2', '0.4', '0.6', '0.8', '1', '1.2', '1.4', '1.6']))
axC.yaxis.set_minor_locator(NullLocator())
axC.set_ylabel('Resistance (Normalised)', fontsize=15)
axC.annotate('', xy=(142, 1.075), xytext=(142, 1.22),
             arrowprops=dict(facecolor='black', edgecolor='black', width=3.5, headwidth=11, headlength=9),
             zorder=5)

handles = []
for color in (CTRL, RN):
    for mk in MARKERS:
        handles.append(Line2D([0], [0], color=color, lw=1, marker=mk, markersize=6,
                              markerfacecolor=color if mk == '.' else 'none',
                              markeredgecolor=color, markeredgewidth=0.9))
leg = axC.legend(handles, [''] * 5 + time_labels, ncol=2, loc='lower right',
                 title='  Ctrl     RN4220', title_fontsize=14, fontsize=14, alignment='left',
                 handlelength=2.8, handletextpad=0.7, columnspacing=0.74, labelspacing=0.3,
                 borderpad=0.8, borderaxespad=0.27, frameon=True, fancybox=False,
                 framealpha=1, edgecolor='black')
leg.get_frame().set_linewidth(1.0)
leg.set_zorder(10)

fig.text(0.03, 1 - 18 / 1694, 'A', fontsize=17, fontweight='bold', va='center', ha='left')
fig.text(0.025, 1 - 556 / 1694, 'B', fontsize=17, fontweight='bold', va='center', ha='left')
fig.text(0.025, 1 - 1143 / 1694, 'C', fontsize=17, fontweight='bold', va='center', ha='left')

fig.savefig('out.png', dpi=100)
